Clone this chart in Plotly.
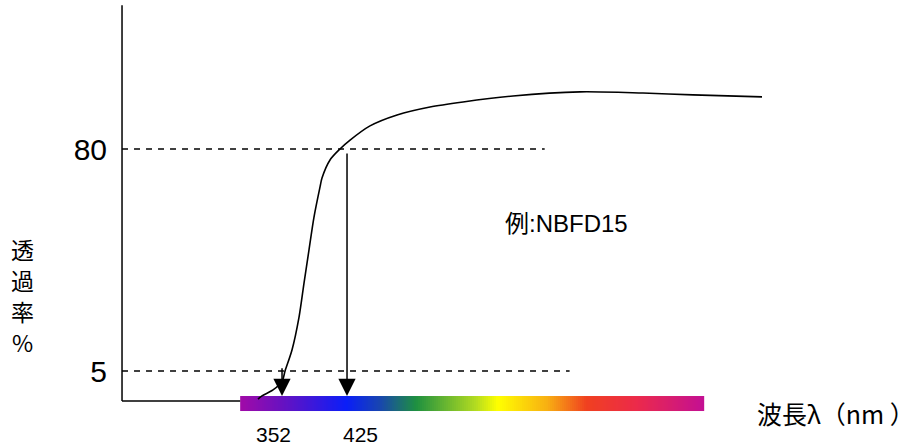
import numpy as np
import plotly.graph_objects as go

# ---------------- data ----------------
wavelength_nm = [325.0, 329.5, 341.9, 352.0, 355.4, 363.2, 371.1, 376.7, 382.3, 387.9,
                 394.7, 396.9, 405.9, 417.1, 428.4, 450.8, 481.2, 518.2, 555.3, 611.4,
                 686.7, 757.4, 813.6, 891.1]
transmittance = [-4.5, -3.4, -1.4, 1.4, 5.0, 12.1, 23.2, 34.7, 45.9, 57.0,
                 67.2, 70.2, 76.3, 80.0, 83.0, 87.8, 91.5, 94.2, 95.9, 97.9,
                 99.3, 98.9, 98.3, 97.6]

levels = [80, 5]                  # dashed reference levels (%)
level_line_end_nm = [647, 675]    # where each dashed line stops
level_labels = ["80", "5"]

marker_nm = [352, 425]            # wavelengths at 5 % and 80 %
marker_labels = ["352", "425"]
marker_from = [6.4, 79.0]         # arrow start (transmittance)

spectrum_nm = [305, 826]          # colour bar extent
axis_origin = [172.3, -5.1]       # (wavelength, transmittance) of axis corner
axis_top = 128.6

y_title_chars = ["透", "過", "率", "%"]
x_title = "波長λ（nm ）"
example_text = "例:NBFD15"

# ---------------- style ----------------
FONT = "Liberation Sans, Arial, Noto Sans CJK JP, sans-serif"
CJK = "Noto Sans CJK JP, Liberation Sans, sans-serif"
spectrum_scale = [
    [0.000, "#a00aa8"], [0.093, "#6512c2"], [0.228, "#0a1ef8"], [0.300, "#1845b0"],
    [0.379, "#1e9040"], [0.509, "#b4dc20"], [0.556, "#ffff00"], [0.662, "#f8b012"],
    [0.748, "#f04020"], [0.856, "#ec2a4a"], [1.000, "#c41092"],
]
bar_y = [-3.45, -8.5]

fig = go.Figure()

# spectrum colour bar
n = 232
fig.add_trace(go.Heatmap(
    x=np.linspace(spectrum_nm[0], spectrum_nm[1], n + 1),
    y=bar_y[::-1],
    z=[np.linspace(0, 1, n)],
    colorscale=spectrum_scale, showscale=False, hoverinfo="skip",
    zmin=0, zmax=1,
))

# transmittance curve
fig.add_trace(go.Scatter(
    x=wavelength_nm, y=transmittance, mode="lines",
    line=dict(color="black", width=1.6, shape="spline", smoothing=0.8),
    hoverinfo="skip", showlegend=False,
))

shapes = []
# vertical axis
shapes.append(dict(type="line", xref="x", yref="y",
                   x0=axis_origin[0], x1=axis_origin[0], y0=axis_origin[1], y1=axis_top,
                   line=dict(color="black", width=1.5)))
# baseline up to spectrum bar
shapes.append(dict(type="line", xref="x", yref="y",
                   x0=axis_origin[0], x1=spectrum_nm[0], y0=axis_origin[1], y1=axis_origin[1],
                   line=dict(color="black", width=1.5)))
# dashed level lines
for lv, xe in zip(levels, level_line_end_nm):
    shapes.append(dict(type="line", xref="x", yref="y",
                       x0=axis_origin[0], x1=xe, y0=lv, y1=lv,
                       line=dict(color="black", width=1.3, dash="6px,6px")))

annotations = []
bar_top = bar_y[0]
label_shift = [-9, 13]
for xm, lab, y0, sh in zip(marker_nm, marker_labels, marker_from, label_shift):
    annotations.append(dict(x=xm, y=bar_top, ax=xm, ay=y0, xref="x", yref="y",
                            axref="x", ayref="y", text="", showarrow=True,
                            arrowhead=2, arrowsize=2.3, arrowwidth=1.5,
                            arrowcolor="black", standoff=0))
    annotations.append(dict(x=xm, y=-16.3, xref="x", yref="y", text=lab,
                            showarrow=False, xshift=sh,
                            font=dict(family=FONT, size=21, color="black")))

annotations.append(dict(x=1065.5, y=-9.2, xref="x", yref="y", text=x_title,
                        xanchor="right", showarrow=False,
                        font=dict(family=CJK, size=25, color="black")))
annotations.append(dict(x=600.2, y=54.7, xref="x", yref="y", text=example_text,
                        xanchor="left", showarrow=False,
                        font=dict(family="Liberation Sans, Noto Sans CJK JP, sans-serif",
                                  size=24, color="black")))
# vertical y title, one character per line
title_px_y = [249, 280, 311, 342]
for ch, py in zip(y_title_chars, title_px_y):
    annotations.append(dict(x=-0.1085, y=1 - py / 446, xref="paper", yref="paper",
                            text=ch, showarrow=False, xanchor="center", yanchor="middle",
                            font=dict(family=CJK, size=23, color="black")))

fig.update_layout(
    width=921, height=446,
    margin=dict(l=110, r=0, t=0, b=0),
    paper_bgcolor="white", plot_bgcolor="white",
    showlegend=False,
    shapes=shapes, annotations=annotations,
    xaxis=dict(range=[158.8, 1069.65], visible=False, fixedrange=True),
    yaxis=dict(range=[-20.34, 130.34], showgrid=False, zeroline=False, showline=False,
               tickmode="array", tickvals=levels, ticktext=level_labels, ticks="",
               ticklabelstandoff=2,
               tickfont=dict(family=FONT, size=30, color="black"), fixedrange=True),
)

fig.write_html("out.html", config={"displayModeBar": False},
               post_script="document.body.style.margin='0';")
